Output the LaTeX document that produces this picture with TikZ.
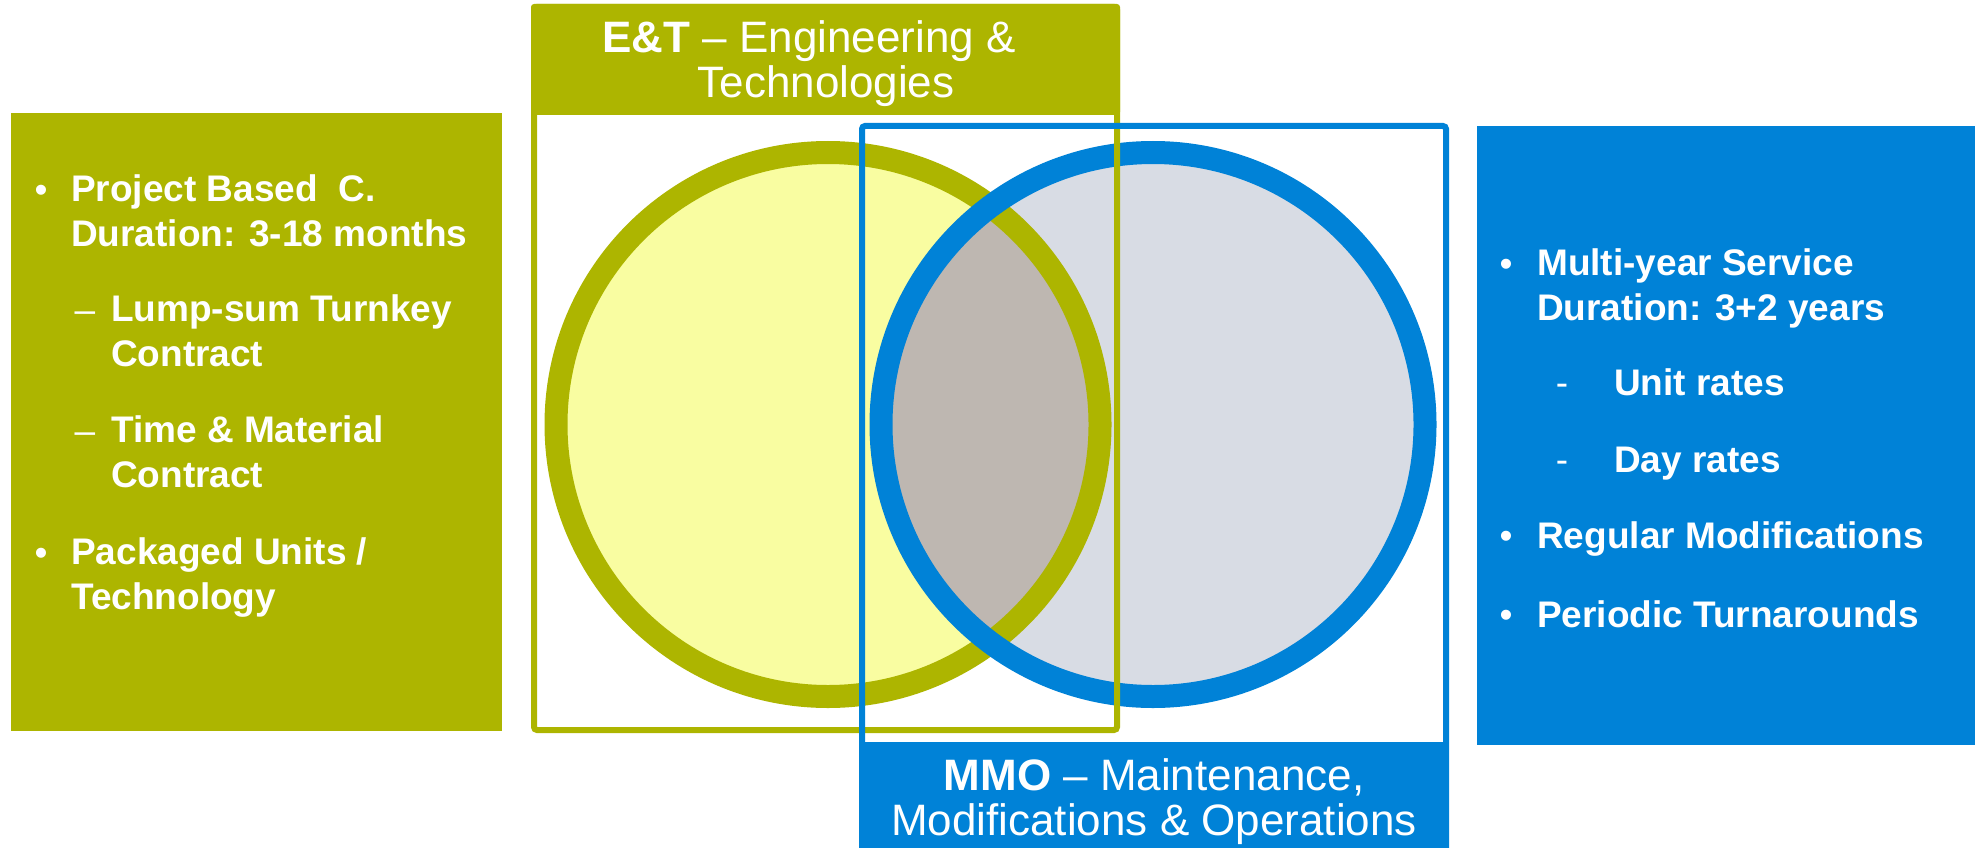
\documentclass[tikz,border=0pt]{standalone}
\usepackage{fontspec}
\setmainfont{Liberation Sans}
\definecolor{etgreen}{RGB}{173,181,0}
\definecolor{mmoblue}{RGB}{0,130,215}
\definecolor{etfill}{RGB}{249,253,161}
\definecolor{mmofill}{RGB}{216,220,228}
\definecolor{lensfill}{RGB}{190,183,177}

\begin{document}
\begin{tikzpicture}[x=1pt, y=-1pt,
    bodytext/.style={text=white, inner sep=0pt, anchor=base west, align=left,
      font=\bfseries\fontsize{37}{44.5}\selectfont},
    dotmark/.style={text=white, inner sep=0pt, anchor=base, font=\fontsize{37}{44}\selectfont},
    headtext/.style={text=white, inner sep=0pt, anchor=base, align=center,
      font=\fontsize{44}{45}\selectfont}]
  \useasboundingbox (0,0) rectangle (1985,848);
  % the two circles and their overlap
  \fill[etfill] (828,424.5) circle (272);
  \fill[mmofill] (1153,424.5) circle (272);
  \begin{scope}
    \clip (828,424.5) circle (272);
    \fill[lensfill] (1153,424.5) circle (272);
  \end{scope}
  \draw[etgreen, line width=23pt] (828,424.5) circle (272);
  \draw[mmoblue, line width=23pt] (1153,424.5) circle (272);
  % E&T frame
  \draw[etgreen, line width=6pt, rounded corners=3pt] (534,7) rectangle (1117,730);
  \fill[etgreen, rounded corners=3pt] (531,4) rectangle (1120,115);
  % MMO frame
  \draw[mmoblue, line width=6pt, rounded corners=3pt] (862,860) -- (862,126) -- (1446,126) -- (1446,860);
  \fill[mmoblue] (859,742) rectangle (1449,848);
  % side boxes
  \fill[etgreen] (11,113) rectangle (502,731);
  \fill[mmoblue] (1477,126) rectangle (1975,745);
  % titles (base = last line)
  \node[headtext] (ettitle) at (826,98) {\textbf{E\&T} – Engineering \&\hspace*{34pt}\\Technologies};
  \node[headtext] (mmotitle) at (1154,835) {\textbf{MMO} – Maintenance,\\Modifications \& Operations};
  % left list
  \node[dotmark] (lb1) at (41,202) {•};
  \node[bodytext] (li1) at (71,246) {Project Based\ \ C.\\Duration: 3-18 months};
  \node[dotmark] (ld1) at (85,322) {–};
  \node[bodytext] (li2) at (111,366) {Lump-sum Turnkey\\Contract};
  \node[dotmark] (ld2) at (85,443) {–};
  \node[bodytext] (li3) at (111,487) {Time \& Material\\Contract};
  \node[dotmark] (lb2) at (41,565) {•};
  \node[bodytext] (li4) at (71,609) {Packaged Units /\\Technology};
  % right list
  \node[dotmark] (rb1) at (1506,276) {•};
  \node[bodytext] (ri1) at (1537,320) {Multi-year Service\\Duration: 3+2 years};
  \node[dotmark] (rd1) at (1562,395.5) {-};
  \node[bodytext] (ri2) at (1614,395.5) {Unit rates};
  \node[dotmark] (rd2) at (1562,472) {-};
  \node[bodytext] (ri3) at (1614,472) {Day rates};
  \node[dotmark] (rb2) at (1506,548.6) {•};
  \node[bodytext] (ri4) at (1537,548.6) {Regular Modifications};
  \node[dotmark] (rb3) at (1506,627) {•};
  \node[bodytext] (ri5) at (1537,627) {Periodic Turnarounds};
\end{tikzpicture}
\end{document}
